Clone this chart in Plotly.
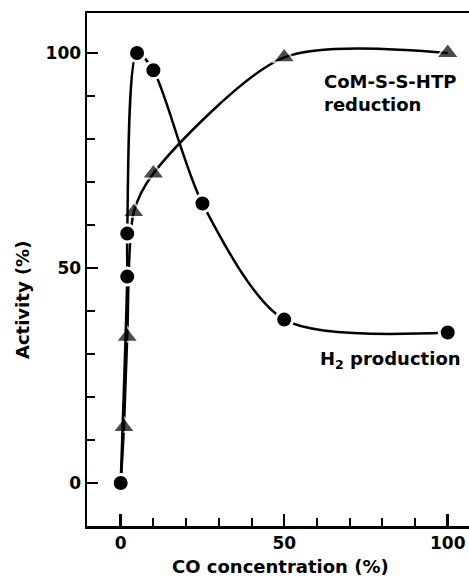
import plotly.graph_objects as go

# H2 production (circles)
h2_x = [0, 2, 2, 5, 10, 25, 50, 100]
h2_y = [0, 48, 58, 100, 96, 65, 38, 35]

# CoM-S-S-HTP reduction (triangles)
com_x = [0, 1, 2, 4, 10, 50, 100]
com_y = [0, 13, 34, 63, 72, 99, 100]

x_ticks = [0, 50, 100]
y_ticks = [0, 50, 100]

FONT = "DejaVu Sans"
W, H = 469, 579
L, R, T, B = 87, 0, 13, 53

fig = go.Figure()

fig.add_trace(go.Scatter(
    x=com_x, y=com_y, mode="lines+markers",
    line=dict(color="black", width=2.5, shape="spline", smoothing=0.8),
    marker=dict(symbol="triangle-up", size=[0] + [20] * (len(com_x) - 1),
                color="black", line=dict(color="white", width=2)),
    showlegend=False, hoverinfo="skip",
))

fig.add_trace(go.Scatter(
    x=h2_x, y=h2_y, mode="lines+markers",
    line=dict(color="black", width=2.5, shape="spline", smoothing=0.8),
    marker=dict(symbol="circle", size=17, color="black",
                line=dict(color="white", width=3)),
    showlegend=False, hoverinfo="skip",
))

fig.add_annotation(x=61.6, y=90.6, xref="x", yref="y",
                   text="CoM-S-S-HTP<br>reduction", showarrow=False,
                   xanchor="left", yanchor="middle", align="left",
                   font=dict(family=FONT, size=18, color="black", weight="bold"))
fig.add_annotation(x=60.4, y=28.6, xref="x", yref="y",
                   text="H<sub>2</sub> production", showarrow=False,
                   xanchor="left", yanchor="middle", align="left",
                   font=dict(family=FONT, size=18, color="black", weight="bold"))

pw, ph = W - L - R, H - T - B
fig.add_annotation(x=(280 - L) / pw, y=(H - B - 566) / ph, xref="paper", yref="paper",
                   text="CO concentration (%)", showarrow=False,
                   xanchor="center", yanchor="middle",
                   font=dict(family=FONT, size=18, color="black", weight="bold"))
fig.add_annotation(x=(22 - L) / pw, y=(H - B - 300) / ph, xref="paper", yref="paper",
                   text="Activity (%)", showarrow=False, textangle=-90,
                   xanchor="center", yanchor="middle",
                   font=dict(family=FONT, size=18, color="black", weight="bold"))

fig.update_layout(
    width=W, height=H,
    margin=dict(l=L, r=R, t=T, b=B),
    paper_bgcolor="white", plot_bgcolor="white",
    font=dict(family=FONT, size=16, color="black"),
    xaxis=dict(
        range=[-10.3, 106.5], tickvals=x_ticks, ticktext=[str(v) for v in x_ticks],
        ticks="inside", ticklen=12, tickwidth=2.5, tickcolor="black",
        minor=dict(dtick=10, tick0=0, ticks="inside", ticklen=8, tickwidth=2, tickcolor="black"),
        showline=True, linecolor="black", linewidth=2.5, mirror=True,
        showgrid=False, zeroline=False, automargin=False,
        tickfont=dict(family=FONT, size=17, weight="bold"),
    ),
    yaxis=dict(
        range=[-10, 109.3], tickvals=y_ticks, ticktext=[str(v) for v in y_ticks],
        ticks="inside", ticklen=11, tickwidth=2.5, tickcolor="black",
        minor=dict(dtick=10, tick0=0, ticks="inside", ticklen=8, tickwidth=2, tickcolor="black"),
        showline=True, linecolor="black", linewidth=2.5, mirror=False,
        showgrid=False, zeroline=False, automargin=False,
        tickfont=dict(family=FONT, size=17, weight="bold"),
    ),
)

fig.write_html(
    "out.html",
    config={"displayModeBar": False, "staticPlot": True},
    post_script="document.body.style.margin='0';document.documentElement.style.overflow='hidden';",
)
